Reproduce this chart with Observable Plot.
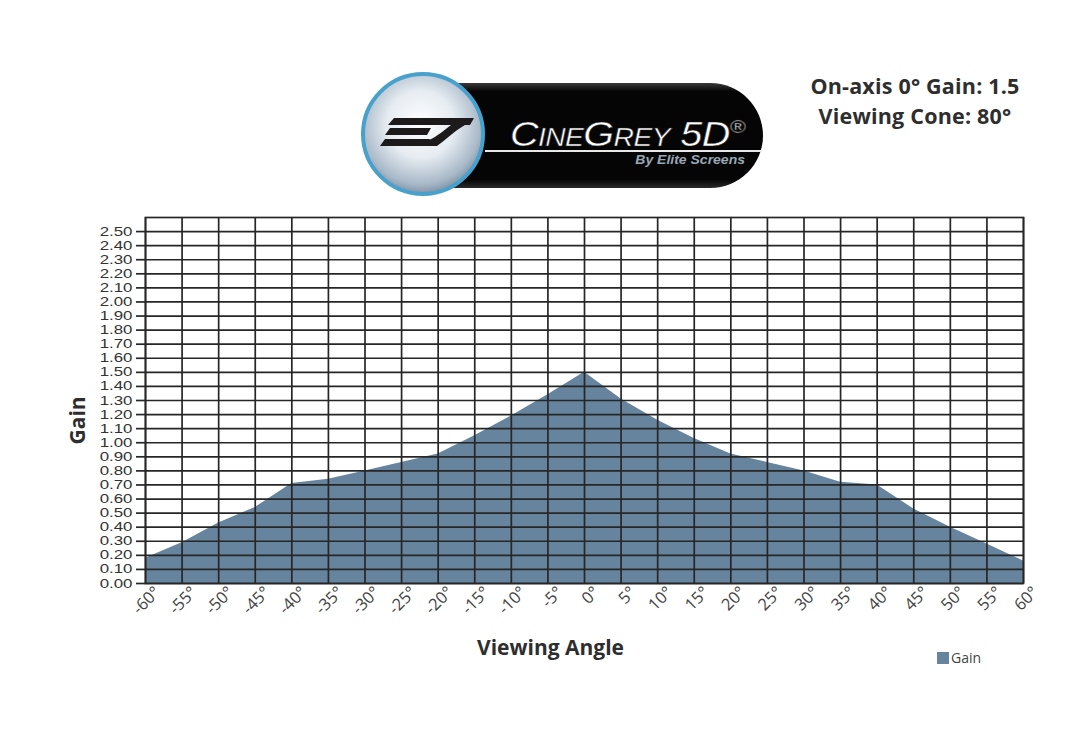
<!DOCTYPE html>
<html>
<head>
<meta charset="utf-8">
<script src="https://cdn.jsdelivr.net/npm/d3@7"></script>
<script src="https://cdn.jsdelivr.net/npm/@observablehq/plot@0.6"></script>
<style>
  html, body { margin: 0; padding: 0; background: #ffffff; }
  #page { position: relative; width: 1080px; height: 735px; overflow: hidden; font-family: "Open Sans", sans-serif; }
  #header { position: absolute; left: 0; top: 0; width: 1080px; height: 200px; }
  #specs { position: absolute; left: 790px; top: 71px; width: 250px; text-align: center;
           font-weight: 700; font-size: 21.5px; line-height: 30px; color: #2e2e2e; letter-spacing: 0.2px; }
  #chart { position: absolute; left: 0; top: 200px; }
  #legend { position: absolute; left: 937px; top: 648px; font-size: 14px; color: #444;
            display: flex; align-items: center; }
  #legend .sw { width: 12px; height: 12px; margin-right: 2px; }
</style>
</head>
<body>
<div id="page">
  <svg id="header" width="1080" height="200" viewBox="0 0 1080 200">
    <defs>
      <radialGradient id="disc" cx="48%" cy="42%" r="62%">
        <stop offset="0" stop-color="#ffffff"/>
        <stop offset="0.45" stop-color="#e6ecf2"/>
        <stop offset="0.8" stop-color="#a9b9c8"/>
        <stop offset="1" stop-color="#6a8196"/>
      </radialGradient>
      <linearGradient id="pillShade" x1="0" y1="0" x2="0" y2="1">
        <stop offset="0" stop-color="#3a3a3a"/>
        <stop offset="0.08" stop-color="#050505"/>
        <stop offset="0.92" stop-color="#050505"/>
        <stop offset="1" stop-color="#2a2a2a"/>
      </linearGradient>
    </defs>
    <!-- black badge -->
    <path d="M440,83 H710.5 A52.5,52.5 0 0 1 710.5,188 H440 Z" fill="url(#pillShade)"/>
    <line x1="485" y1="151" x2="762" y2="151" stroke="#e8e8e8" stroke-width="1.8"/>
    <g transform="translate(510,0) scale(1.13,1) translate(-510,0)">
      <text x="510" y="146" font-family="Liberation Sans, sans-serif" font-style="italic"
            fill="#ffffff" stroke="#222" stroke-width="0.5" font-size="35" letter-spacing="-0.5">C<tspan font-size="25">INE</tspan>G<tspan font-size="25">REY</tspan> 5D<tspan font-size="19" dy="-13">®</tspan></text>
    </g>
    <g transform="translate(745,0) scale(1.12,1) translate(-745,0)">
      <text x="745" y="164" text-anchor="end" font-family="Liberation Sans, sans-serif" font-style="italic"
            font-weight="700" fill="#9aa7b4" font-size="12.5">By Elite Screens</text>
    </g>
    <!-- emblem disc -->
    <circle cx="423" cy="134" r="60" fill="url(#disc)" stroke="#48a0cc" stroke-width="4"/>
    <g fill="#1c1a1a">
      <path d="M394,118 L474,118 L470,125 L388,125 Z"/>
      <path d="M390,128 L431,128 L427,135 L385,135 Z"/>
      <path d="M385,139 L430,139 L426,146 L380,146 Z"/>
      <path d="M451,125 L465,125 C454,131 446,140 437,146 L422,146 L425,140 L429,140 C438,136 444,130 451,125 Z"/>
    </g>
  </svg>
  <div id="specs">On-axis 0° Gain: 1.5<br>Viewing Cone: 80°</div>
  <div id="chart"></div>
  <div id="legend"><span class="sw" style="background:#67849f"></span>Gain</div>
</div>
<script>
// Viewing angle (degrees) and measured screen gain at each angle
const angles = [-60, -55, -50, -45, -40, -35, -30, -25, -20, -15, -10, -5, 0,
                5, 10, 15, 20, 25, 30, 35, 40, 45, 50, 55, 60];
const gain = [0.18, 0.29, 0.43, 0.54, 0.71, 0.74, 0.80, 0.86, 0.92, 1.05, 1.19, 1.34, 1.50,
              1.31, 1.16, 1.03, 0.92, 0.86, 0.80, 0.72, 0.70, 0.53, 0.40, 0.28, 0.16];
// Gain axis ticks, 0.00 to 2.50 in steps of 0.10
const gainTicks = d3.range(26).map(i => i / 10);
const axisTitles = { x: "Viewing Angle", y: "Gain" };

const fillColor = "#67849f";
const gridColor = "#262626";

const data = angles.map((a, i) => ({ angle: a, gain: gain[i] }));

const chart = Plot.plot({
  width: 1080,
  height: 535,
  marginLeft: 145,
  marginRight: 57,
  marginTop: 17,
  marginBottom: 152,
  style: { fontFamily: "Open Sans, sans-serif", background: "transparent" },
  x: { domain: [-60, 60] },
  y: { domain: [0, 2.6] },
  marks: [
    Plot.areaY(data, { x: "angle", y: "gain", fill: fillColor }),
    Plot.ruleY(gainTicks, { stroke: gridColor, strokeWidth: 1.7 }),
    Plot.ruleX(angles, { stroke: gridColor, strokeWidth: 1.7 }),
    Plot.frame({ stroke: gridColor, strokeWidth: 1.7 }),
    Plot.axisY({
      ticks: gainTicks,
      tickFormat: d => d.toFixed(2),
      tickSize: 9,
      tickPadding: 4,
      label: null,
      fontSize: 12.5,
      color: "#333",
      stroke: gridColor,
      strokeWidth: 1.7
    }),
    Plot.axisX({
      ticks: angles,
      tickFormat: d => d + "°",
      tickSize: 0,
      tickRotate: -45,
      tickPadding: 6,
      dx: 12,
      label: null,
      fontSize: 16.5,
      color: "#444"
    }),
    Plot.text([axisTitles.y], {
      frameAnchor: "left", dx: -67, dy: 44, rotate: -90,
      fontSize: 21, fontWeight: 700, fill: "#2e2e2e"
    }),
    Plot.text([axisTitles.x], {
      frameAnchor: "bottom", dx: -34, dy: 71,
      fontSize: 21, fontWeight: 700, fill: "#2e2e2e"
    })
  ]
});

// The gain labels sit 14px apart: use a compact face and widen it sideways
const yLabels = chart.querySelector('[aria-label="y-axis tick label"]');
if (yLabels) {
  yLabels.setAttribute("font-family", "Liberation Sans, Arial, sans-serif");
  yLabels.querySelectorAll("text").forEach(t => {
    const tr = t.getAttribute("transform") || "";
    t.setAttribute("transform", tr + " scale(1.35,1)");
  });
}
document.getElementById("chart").appendChild(chart);
</script>
</body>
</html>
